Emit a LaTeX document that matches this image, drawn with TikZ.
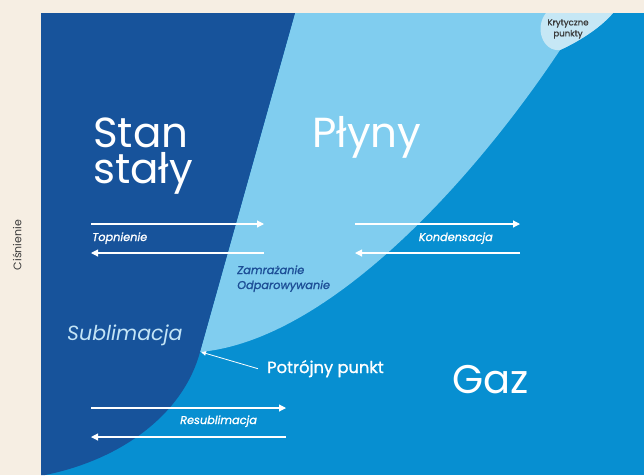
\documentclass[tikz,border=0pt]{standalone}
\usepackage{fontspec}
\setmainfont{Poppins}
\newfontfamily\medfont{Poppins}[FakeBold=1.2]
\usepackage{tikz}
\usetikzlibrary{arrows.meta, positioning}
\definecolor{paper}{HTML}{F6EEE3}
\definecolor{solidblue}{HTML}{17539B}
\definecolor{liquidblue}{HTML}{80CDEF}
\definecolor{gasblue}{HTML}{078FD1}
\definecolor{critblue}{HTML}{C6E7F5}
\definecolor{labelblue}{HTML}{1D4F97}
\definecolor{sublblue}{HTML}{C3E4F6}
\definecolor{axisgray}{HTML}{3A3A3A}
\tikzstyle{phase} = [text=white, anchor=base west, inner sep=0pt,
font=\fontsize{42}{36}\selectfont]
\tikzstyle{process} = [text=white, anchor=base west, inner sep=0pt,
font=\medfont\itshape\fontsize{11.3}{13}\selectfont]
\tikzstyle{arrow} = [white, line width=1.1pt, -{Triangle[length=7pt,width=7pt]}]
\tikzstyle{pointer} = [white, line width=0.8pt, -{Triangle[length=5pt,width=4.5pt]}]

\begin{document}
\begin{tikzpicture}[x=1pt, y=-1pt]
            % paper and phase areas
            \fill[paper] (0,0) rectangle (644,475);
            \fill[gasblue] (41,13) rectangle (644,475);
            \fill[liquidblue] (295,13) -- (200,352) .. controls (330,340) and (475,178) .. (560,50)
                .. controls (582,40) and (602,26) .. (613,13) -- cycle;
            \fill[critblue] (546,13) .. controls (534,28) and (543,52) .. (560,50)
                .. controls (582,40) and (602,26) .. (613,13) -- cycle;
            \fill[solidblue] (41,13) -- (295,13) -- (200,352) .. controls (183,415) and (120,460) .. (45,475)
                -- (41,475) -- cycle;

            % phase names
            \node (solid) [phase] at (93,147) {Stan};
            \node (solid b) [phase, below=36pt of solid.base west, anchor=base west] {stały};
            \node (liquid) [phase] at (312,147) {Płyny};
            \node (gas) [phase, font=\fontsize{40}{40}\selectfont] at (452,393) {Gaz};
            \node (crit) [align=center, inner sep=0pt, text=axisgray,
                font=\medfont\fontsize{8.6}{11}\selectfont] at (568,29) {Krytyczne\\punkty};
            \node (axis) [rotate=90, text=axisgray, font=\fontsize{11}{12}\selectfont] at (17,245) {Ciśnienie};

            % transitions
            \coordinate (melt a) at (91,224);
            \coordinate (melt b) at (264,224);
            \coordinate (freeze a) at (264,253);
            \coordinate (freeze b) at (91,253);
            \coordinate (cond a) at (355,224);
            \coordinate (cond b) at (520,224);
            \coordinate (evap a) at (520,253);
            \coordinate (evap b) at (355,253);
            \coordinate (resub a) at (91,408);
            \coordinate (resub b) at (286,408);
            \coordinate (subl a) at (286,437);
            \coordinate (subl b) at (91,437);
            \coordinate (triple) at (201,352);

            \draw [arrow] (melt a) -- (melt b);
            \draw [arrow] (freeze a) -- (freeze b);
            \draw [arrow] (cond a) -- (cond b);
            \draw [arrow] (evap a) -- (evap b);
            \draw [arrow] (resub a) -- (resub b);
            \draw [arrow] (subl a) -- (subl b);

            \node (melt) [process] at (92,241) {Topnienie};
            \node (cond) [process, anchor=base east] at (493,241) {Kondensacja};
            \node (resub) [process] at (180,424) {Resublimacja};
            \node (freeze) [process, text=labelblue] at (237,274) {Zamrażanie};
            \node (evap) [process, text=labelblue, below=15pt of freeze.base west, anchor=base west] {Odparowywanie};
            \node (subl) [process, text=sublblue, font=\itshape\fontsize{20.5}{22}\selectfont] at (67,340) {Sublimacja};

            \node (tp) [anchor=base west, inner sep=0pt, text=white,
                font=\medfont\fontsize{16.3}{18}\selectfont] at (267,373) {Potrójny punkt};
            \draw [pointer] ([xshift=-9pt]tp.west) -- (triple);
        \end{tikzpicture}
\end{document}
